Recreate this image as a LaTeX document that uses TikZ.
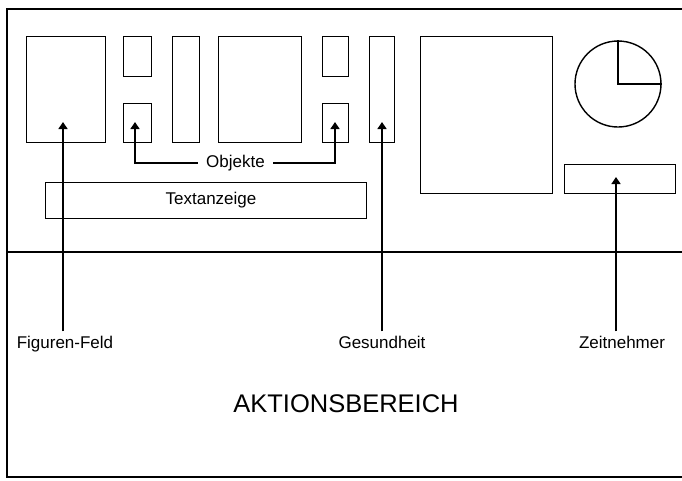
\documentclass[tikz,border=0pt]{standalone}
\usepackage{fontspec}
\setmainfont{Liberation Sans}
\usetikzlibrary{arrows.meta}
\begin{document}
\begin{tikzpicture}[x=1pt,y=-1pt,
  line width=1.4pt,
  box/.style={draw, line width=1.4pt, inner sep=0pt, anchor=north west},
  lbl/.style={font=\fontsize{17}{20}\selectfont, inner sep=3pt, text height=12.5pt, text depth=3.5pt},
  pointer/.style={line width=1.4pt, -{Triangle[width=9pt,length=7pt]}}]
\useasboundingbox (0,0) rectangle (682,480);
% outer frame (open on the right)
\draw (682,9) -- (7,9) -- (7,477) -- (682,477);
\draw (7,252) -- (682,252);
% boxes
\node[box, minimum width=79, minimum height=106] (ff) at (26,36) {};
\node[box, minimum width=28, minimum height=40] (o1t) at (123,36) {};
\node[box, minimum width=28, minimum height=39] (o1b) at (123,103) {};
\node[box, minimum width=27, minimum height=106] (t1) at (172,36) {};
\node[box, minimum width=83, minimum height=106] (mid) at (218,36) {};
\node[box, minimum width=26, minimum height=40] (o2t) at (322,36) {};
\node[box, minimum width=26, minimum height=39] (o2b) at (322,103) {};
\node[box, minimum width=25, minimum height=106] (ges) at (369,36) {};
\node[box, minimum width=132, minimum height=157] (big) at (420,36) {};
\node[box, minimum width=111, minimum height=29] (zeit) at (564,164) {};
\node[box, minimum width=321, minimum height=36] (txt) at (45,182) {};
\node[lbl] at (211,200) {Textanzeige};
% clock
\node[draw, circle, minimum size=86, inner sep=0pt] (clk) at (618,84) {};
\draw (clk.north) -- (clk.center) -- (clk.east);
% arrow tips
\coordinate (fftip) at (63,122);
\coordinate (o1tip) at (135,122);
\coordinate (o2tip) at (335,122);
\coordinate (gestip) at (382,122);
\coordinate (zeittip) at (616,177);
% labels
\node[lbl, inner xsep=8pt] (objl) at (235.5,163) {Objekte};
\node[lbl, inner ysep=4pt] (ffl) at (65,344) {Figuren-Feld};
\node[lbl, inner ysep=4pt] (gesl) at (382,344) {Gesundheit};
\node[lbl, inner ysep=4pt] (zeitl) at (622,344) {Zeitnehmer};
\node[font=\fontsize{25.5}{30}\selectfont] (akt) at (346,404) {AKTIONSBEREICH};
% connectors
\draw[pointer] (objl.west) -| (o1tip);
\draw[pointer] (objl.east) -| (o2tip);
\draw[pointer] (ffl.north -| fftip) -- (fftip);
\draw[pointer] (gesl.north -| gestip) -- (gestip);
\draw[pointer] (zeitl.north -| zeittip) -- (zeittip);
\end{tikzpicture}
\end{document}
